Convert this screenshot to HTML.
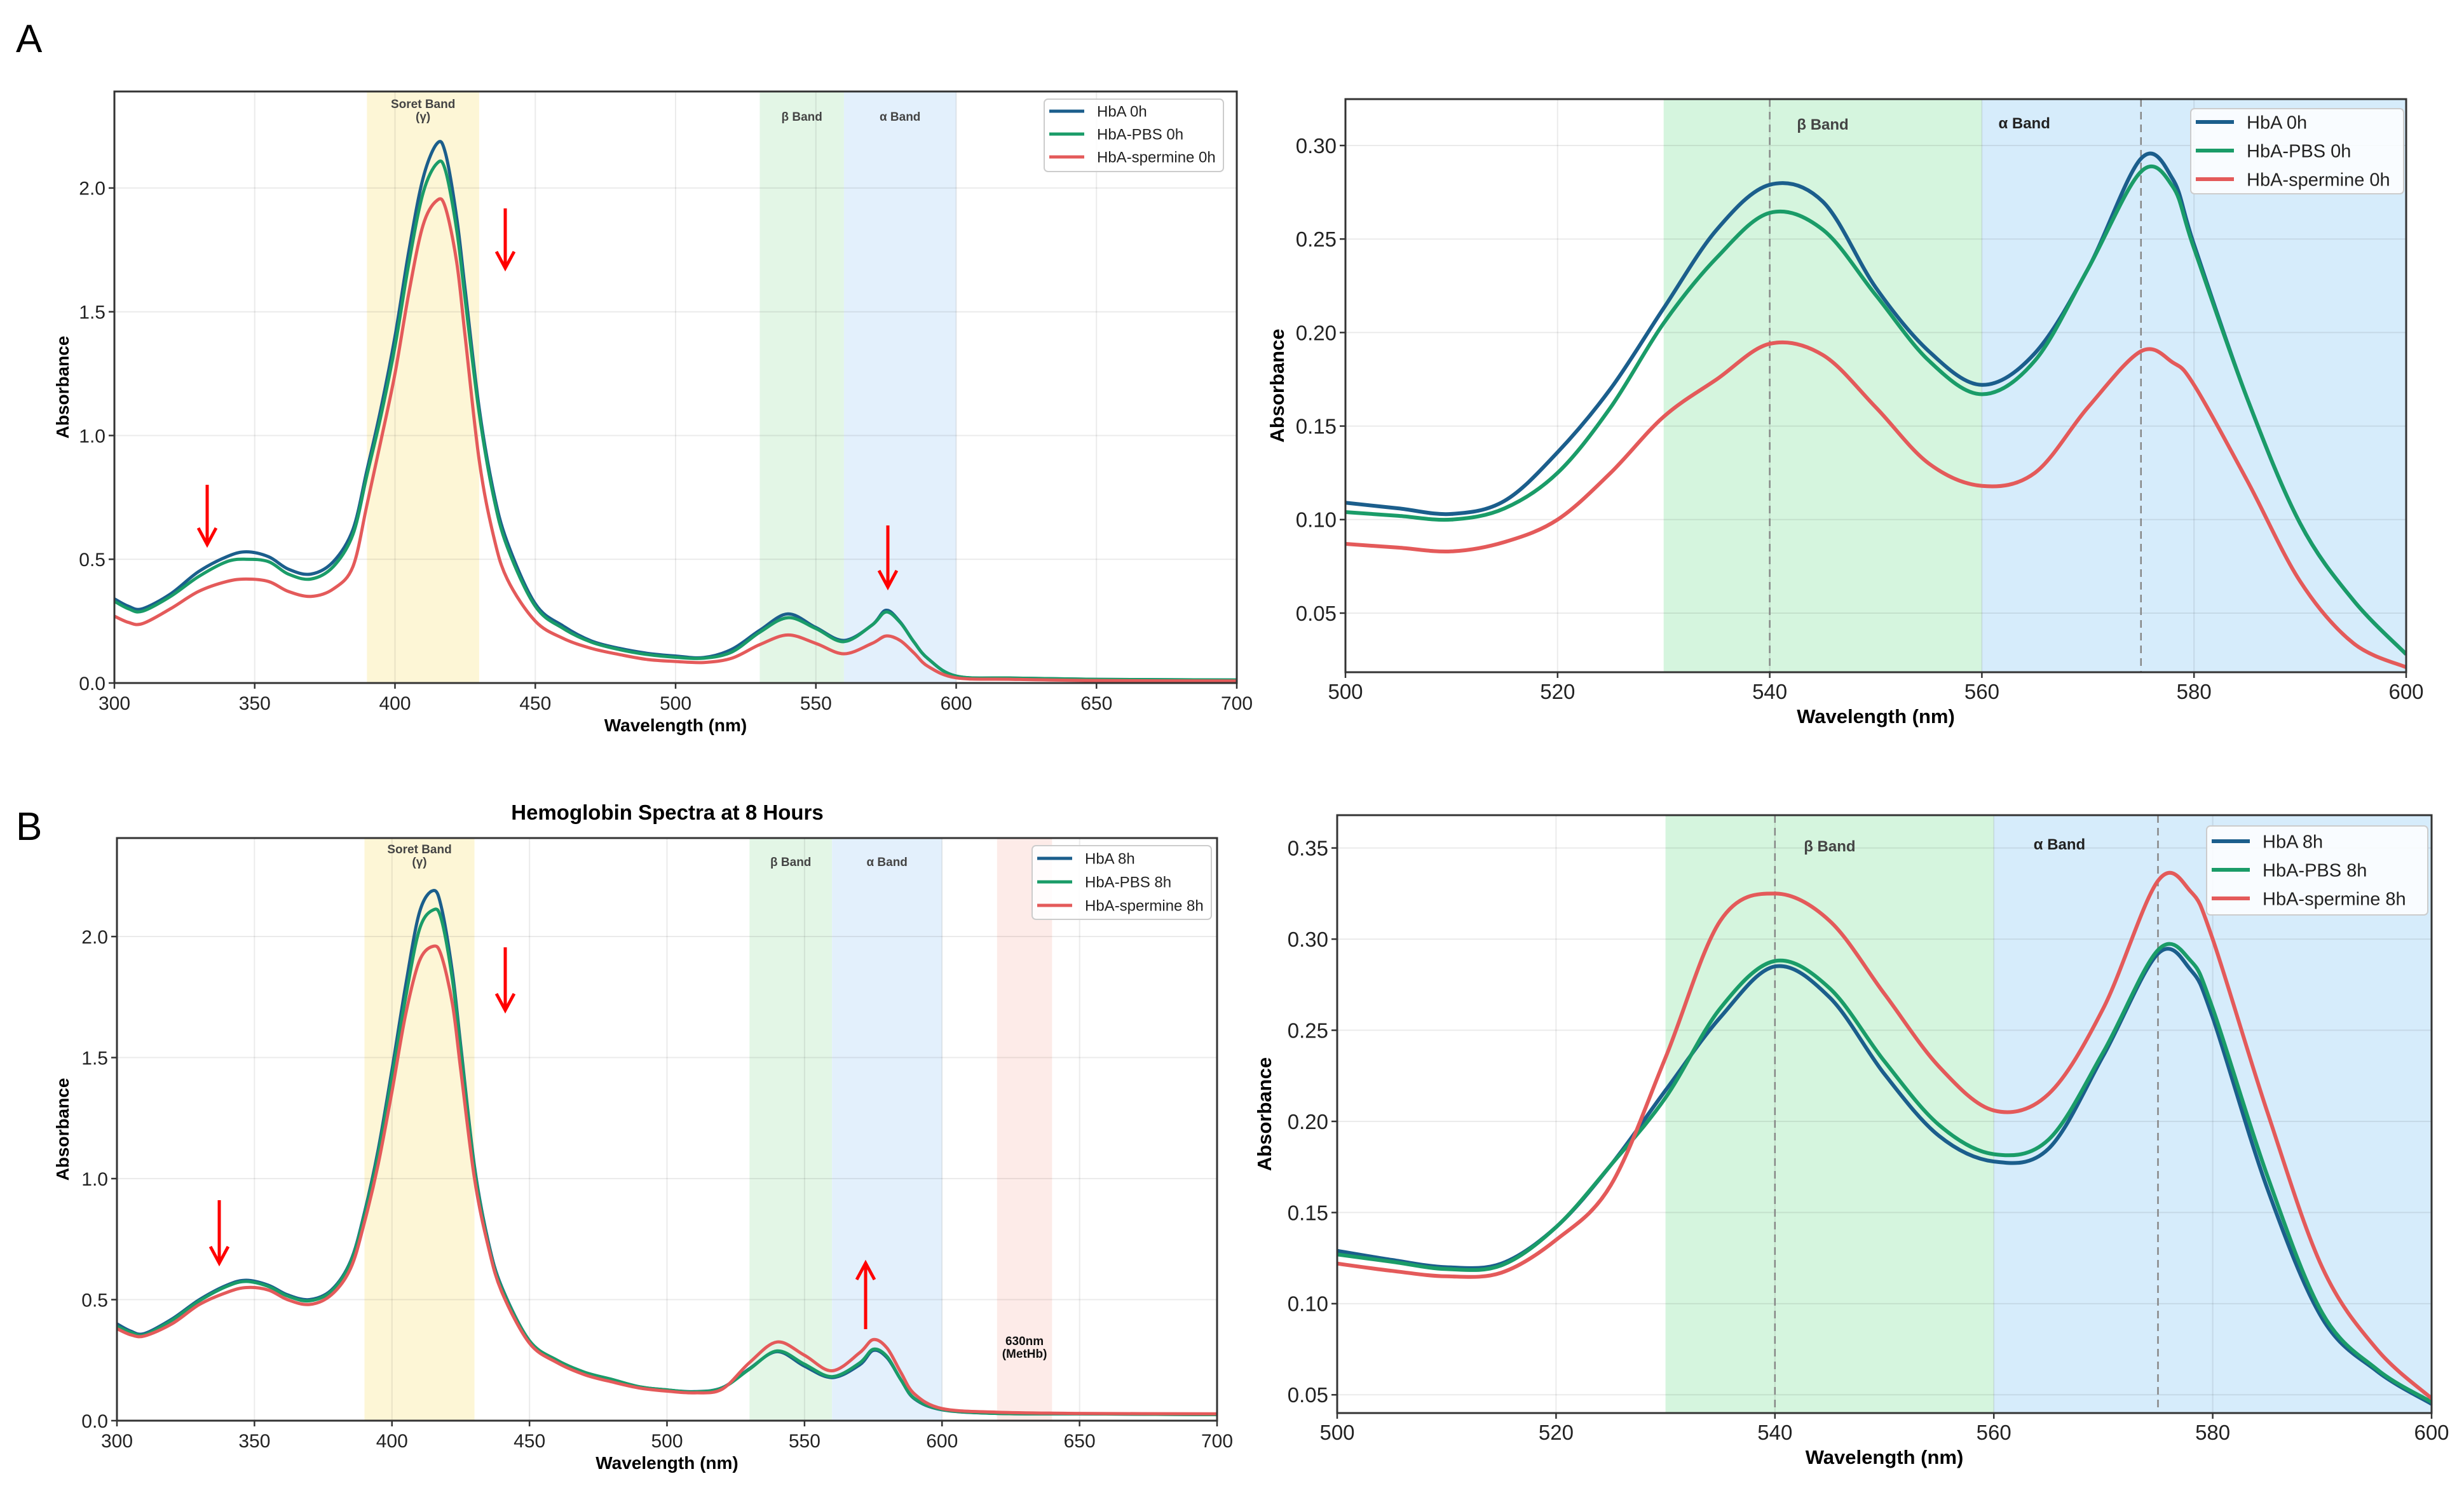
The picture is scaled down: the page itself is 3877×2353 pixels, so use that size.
<!DOCTYPE html>
<html><head><meta charset="utf-8">
<style>
html,body{margin:0;padding:0;background:#fff;}
svg{display:block;font-family:"Liberation Sans",sans-serif;}
</style></head>
<body>
<svg id="fig" width="3877" height="2353" viewBox="0 0 3877 2353" xmlns="http://www.w3.org/2000/svg">
<rect width="3877" height="2353" fill="#fff"/>
<text x="25" y="82" font-size="62">A</text>
<text x="25" y="1322" font-size="62">B</text>
<text x="1050" y="1290" font-size="33" font-weight="bold" text-anchor="middle">Hemoglobin Spectra at 8 Hours</text>
</svg>
<script>
// ---- data: full spectra (nm) ----
const wideWl = [300,305,310,320,330,340,347,355,362,370,378,385,390,395,400,405,410,415,418,422,425,430,435,440,450,460,470,480,490,500,510,520,530,540,550,560,570,575,580,585,590,600,620,650,700];
const hba0 = [.34,.31,.30,.36,.45,.51,.53,.51,.46,.44,.49,.62,.86,1.11,1.40,1.75,2.04,2.18,2.14,1.88,1.59,1.11,.78,.57,.32,.23,.17,.14,.12,.109,.103,.136,.213,.279,.224,.172,.234,.294,.247,.165,.098,.028,.02,.015,.012];
const pbs0 = [.33,.30,.29,.35,.43,.49,.50,.49,.44,.42,.47,.60,.84,1.08,1.36,1.70,1.98,2.10,2.07,1.83,1.55,1.09,.76,.55,.31,.22,.165,.135,.115,.104,.100,.125,.205,.264,.22,.167,.234,.287,.245,.165,.098,.028,.02,.015,.012];
const spm0 = [.27,.245,.24,.30,.37,.41,.42,.41,.37,.35,.38,.47,.72,.98,1.25,1.58,1.85,1.95,1.92,1.70,1.40,.90,.60,.42,.25,.18,.14,.115,.095,.087,.083,.10,.155,.194,.16,.118,.16,.19,.172,.121,.067,.021,.015,.01,.008];
const hba8 = [.40,.37,.36,.42,.50,.56,.58,.56,.52,.50,.54,.66,.86,1.12,1.45,1.80,2.10,2.19,2.12,1.85,1.55,1.05,.74,.55,.33,.25,.20,.17,.14,.127,.12,.136,.215,.285,.225,.178,.23,.29,.26,.17,.09,.045,.03,.028,.025];
const pbs8 = [.39,.365,.355,.415,.495,.555,.575,.555,.515,.495,.535,.655,.85,1.10,1.42,1.75,2.03,2.11,2.07,1.82,1.53,1.04,.73,.545,.33,.25,.20,.17,.14,.127,.119,.135,.213,.288,.233,.182,.238,.295,.265,.17,.092,.046,.03,.028,.025];
const spm8 = [.38,.355,.35,.40,.48,.53,.55,.54,.50,.48,.52,.63,.82,1.06,1.36,1.68,1.90,1.96,1.92,1.72,1.45,1.0,.72,.53,.32,.24,.19,.16,.135,.122,.115,.13,.24,.325,.27,.206,.28,.335,.30,.20,.11,.05,.035,.03,.028];
// ---- data: zoomed Q-band region ----
const zoomWl = [500,505,510,515,520,525,530,535,540,545,550,555,560,565,570,575,578,580,585,590,595,600];
const zHba0 = [.109,.106,.103,.11,.136,.17,.213,.255,.279,.27,.224,.19,.172,.189,.234,.293,.282,.247,.165,.098,.057,.028];
const zPbs0 = [.104,.102,.100,.106,.125,.16,.205,.24,.264,.255,.22,.185,.167,.185,.234,.286,.278,.245,.165,.098,.057,.028];
const zSpm0 = [.087,.085,.083,.088,.10,.125,.155,.175,.194,.188,.16,.13,.118,.125,.16,.19,.184,.172,.121,.067,.034,.021];
const zHba8 = [.129,.124,.120,.122,.142,.176,.217,.257,.285,.268,.226,.192,.178,.185,.236,.292,.283,.257,.163,.092,.063,.045];
const zPbs8 = [.127,.123,.119,.121,.142,.176,.213,.262,.288,.273,.233,.198,.182,.19,.238,.294,.288,.262,.17,.095,.064,.046];
const zSpm8 = [.122,.118,.115,.117,.135,.165,.235,.31,.325,.31,.27,.23,.206,.215,.262,.332,.326,.30,.205,.12,.075,.048];
const wideTicksX = [300,350,400,450,500,550,600,650,700];
const wideTicksY = [0,0.5,1.0,1.5,2.0];
const zoomTicksX = [500,520,540,560,580,600];
const zoomTicksYA = [0.05,0.10,0.15,0.20,0.25,0.30];
const zoomTicksYB = [0.05,0.10,0.15,0.20,0.25,0.30,0.35];
const legA = ["HbA 0h","HbA-PBS 0h","HbA-spermine 0h"];
const legB = ["HbA 8h","HbA-PBS 8h","HbA-spermine 8h"];

const NS="http://www.w3.org/2000/svg";
const svg=document.getElementById('fig');
const COLS=["#1b5e8c","#1a9c68","#e45a5a"];
function mk(tag,attrs,parent,txt){const e=document.createElementNS(NS,tag);for(const k in attrs)e.setAttribute(k,attrs[k]);if(txt!==undefined)e.textContent=txt;(parent||svg).appendChild(e);return e;}

function panel(o){
  const g=mk('g',{});
  
  
  const sx=v=>o.x0+(v-o.xmin)/(o.xmax-o.xmin)*(o.x1-o.x0);
  const sy=v=>o.y1-(v-o.ymin)/(o.ymax-o.ymin)*(o.y1-o.y0);
  o.bands.forEach(b=>{
    const r=mk('rect',{x:sx(b[0]),y:o.y0,width:sx(b[1])-sx(b[0]),height:o.y1-o.y0,fill:b[2]},g);
    
    
  });
  o.tx.forEach(t=>{const l=mk('line',{x1:sx(t),x2:sx(t),y1:o.y0,y2:o.y1,stroke:'#000','stroke-opacity':0.08,'stroke-width':2},g);
    
    });
  o.ty.forEach(t=>{const l=mk('line',{x1:o.x0,x2:o.x1,y1:sy(t),y2:sy(t),stroke:'#000','stroke-opacity':0.08,'stroke-width':2},g);
    
    });
  (o.dashes||[]).forEach(d=>{const l=mk('line',{x1:sx(d),x2:sx(d),y1:o.y0,y2:o.y1,stroke:'#888','stroke-width':2.5,'stroke-dasharray':'12,8'},g);
    
    });
  (o.bandLabels||[]).forEach(b=>{
    b.lines.forEach((s,i)=>{const t=mk('text',{x:sx(b.x),y:b.y+i*o.blh,'font-size':o.bfs,'font-weight':'bold',fill:b.c||'#444','text-anchor':'middle'},g,s);
      
      });
  });
  o.series.forEach((s,k)=>{
    const pts=o.wl.map((w,i)=>[sx(w),sy(s[i])]);
    let d='M'+pts[0][0]+','+pts[0][1];
    for(let i=0;i<pts.length-1;i++){
      const p0=pts[Math.max(0,i-1)],p1=pts[i],p2=pts[i+1],p3=pts[Math.min(pts.length-1,i+2)];
      const c1x=p1[0]+(p2[0]-p0[0])/6,c1y=p1[1]+(p2[1]-p0[1])/6,c2x=p2[0]-(p3[0]-p1[0])/6,c2y=p2[1]-(p3[1]-p1[1])/6;
      d+=' C'+c1x.toFixed(1)+','+c1y.toFixed(1)+' '+c2x.toFixed(1)+','+c2y.toFixed(1)+' '+p2[0].toFixed(1)+','+p2[1].toFixed(1);
    }
    const p=mk('path',{d:d,fill:'none',stroke:COLS[k],'stroke-width':o.lw,'stroke-linejoin':'round','clip-path':'url(#clip-'+o.name+')'},g);
    
    
  });
  const cp=mk('clipPath',{id:'clip-'+o.name},g);mk('rect',{x:o.x0,y:o.y0,width:o.x1-o.x0,height:o.y1-o.y0},cp);
  const f=mk('rect',{x:o.x0,y:o.y0,width:o.x1-o.x0,height:o.y1-o.y0,fill:'none',stroke:'#333','stroke-width':3},g);
  
  
  o.tx.forEach(t=>{mk('line',{x1:sx(t),x2:sx(t),y1:o.y1,y2:o.y1+9,stroke:'#333','stroke-width':2.5},g);
    const tl=mk('text',{x:sx(t),y:o.y1+42,'font-size':o.tfs,'text-anchor':'middle',fill:'#222'},g,String(t));
    
    });
  o.ty.forEach(t=>{mk('line',{x1:o.x0-9,x2:o.x0,y1:sy(t),y2:sy(t),stroke:'#333','stroke-width':2.5},g);
    const tl=mk('text',{x:o.x0-14,y:sy(t)+o.tfs*0.36,'font-size':o.tfs,'text-anchor':'end',fill:'#222'},g,t.toFixed(o.dec));
    
    });
  const xl=mk('text',{x:(o.x0+o.x1)/2,y:o.y1+o.xlOff,'font-size':o.afs,'font-weight':'bold','text-anchor':'middle'},g,'Wavelength (nm)');
  
  
  const yx=o.ylx, yy=(o.y0+o.y1)/2;
  const yl=mk('text',{x:yx,y:yy,'font-size':o.afs,'font-weight':'bold','text-anchor':'middle',transform:'rotate(-90 '+yx+' '+yy+')'},g,'Absorbance');
  
  
  const L=o.leg;
  const lg=mk('g',{},g);
  
  
  mk('rect',{x:L.x,y:L.y,width:L.w,height:L.h,rx:6,fill:'#fff','fill-opacity':0.85,stroke:'#ccc','stroke-width':2},lg);
  L.labels.forEach((s,i)=>{
    const cy=L.y+L.first+i*L.dy;
    const e=mk('g',{},lg);
    
    
    mk('line',{x1:L.x+8,x2:L.x+8+L.ll,y1:cy,y2:cy,stroke:COLS[i],'stroke-width':o.lw},e);
    mk('text',{x:L.x+L.ll+28,y:cy+L.fs*0.36,'font-size':L.fs,fill:'#222'},e,s);
  });
  (o.arrows||[]).forEach(a=>{
    const ag=mk('g',{},g);
    
    
    const dir=a[2]>a[1]?1:-1;
    mk('line',{x1:a[0],x2:a[0],y1:a[1],y2:a[2]-dir*4,stroke:'#f00','stroke-width':5},ag);
    mk('path',{d:`M${a[0]-14},${a[2]-dir*26} L${a[0]},${a[2]} L${a[0]+14},${a[2]-dir*26}`,fill:'none',stroke:'#f00','stroke-width':5},ag);
  });
}

const wideBandsA=[[390,430,'#fdf6d6','soret-band'],[530,560,'#e3f6e6','beta-band'],[560,600,'#e3f0fc','alpha-band']];
const wideBandsB=wideBandsA.concat([[620,640,'#fdebe8','methb-band']]);
panel({name:'panel-a-full',x0:180,x1:1946,y0:144,y1:1075,xmin:300,xmax:700,ymin:0,ymax:2.39,wl:wideWl,series:[hba0,pbs0,spm0],
  tx:wideTicksX,ty:wideTicksY,dec:1,tfs:30,afs:28,lw:5,xlOff:76,ylx:108,bands:wideBandsA,bfs:19,blh:20,
  bandLabels:[{x:410,y:170,lines:['Soret Band','(γ)']},{x:545,y:190,lines:['β Band']},{x:580,y:190,lines:['α Band']}],
  leg:{x:1643,y:156,w:282,h:114,first:19,dy:36,ll:55,fs:24,labels:legA},
  arrows:[[326,763,857],[795,328,422],[1397,827,924]]});
panel({name:'panel-a-zoom',x0:2117,x1:3786,y0:156,y1:1058,xmin:500,xmax:600,ymin:0.0184,ymax:0.3248,wl:zoomWl,series:[zHba0,zPbs0,zSpm0],
  tx:zoomTicksX,ty:zoomTicksYA,dec:2,tfs:33,afs:31,lw:6,xlOff:80,ylx:2020,
  bands:[[530,560,'#d5f5de','beta-band'],[560,600,'#d6ecfb','alpha-band']],dashes:[540,575],bfs:24,blh:26,
  bandLabels:[{x:545,y:204,lines:['β Band']},{x:564,y:202,lines:['α Band'],c:'#222'}],
  leg:{x:3447,y:171,w:335,h:134,first:21,dy:45,ll:60,fs:29,labels:legA}});
panel({name:'panel-b-full',x0:184,x1:1915,y0:1319,y1:2236,xmin:300,xmax:700,ymin:0,ymax:2.407,wl:wideWl,series:[hba8,pbs8,spm8],
  tx:wideTicksX,ty:wideTicksY,dec:1,tfs:30,afs:28,lw:5,xlOff:76,ylx:108,bands:wideBandsB,bfs:19,blh:20,
  bandLabels:[{x:410,y:1343,lines:['Soret Band','(γ)']},{x:545,y:1363,lines:['β Band']},{x:580,y:1363,lines:['α Band']},{x:630,y:2117,lines:['630nm','(MetHb)'],c:'#111'}],
  leg:{x:1624,y:1331,w:282,h:116,first:20,dy:37,ll:55,fs:24,labels:legB},
  arrows:[[345,1889,1988],[795,1491,1590],[1362,2092,1988]]});
panel({name:'panel-b-zoom',x0:2104,x1:3826,y0:1283,y1:2224,xmin:500,xmax:600,ymin:0.040,ymax:0.368,wl:zoomWl,series:[zHba8,zPbs8,zSpm8],
  tx:zoomTicksX,ty:zoomTicksYB,dec:2,tfs:33,afs:31,lw:6,xlOff:80,ylx:2000,
  bands:[[530,560,'#d5f5de','beta-band'],[560,600,'#d6ecfb','alpha-band']],dashes:[540,575],bfs:24,blh:26,
  bandLabels:[{x:545,y:1340,lines:['β Band']},{x:566,y:1337,lines:['α Band'],c:'#222'}],
  leg:{x:3472,y:1300,w:348,h:140,first:24,dy:45,ll:60,fs:29,labels:legB}});
</script>
</body></html>
